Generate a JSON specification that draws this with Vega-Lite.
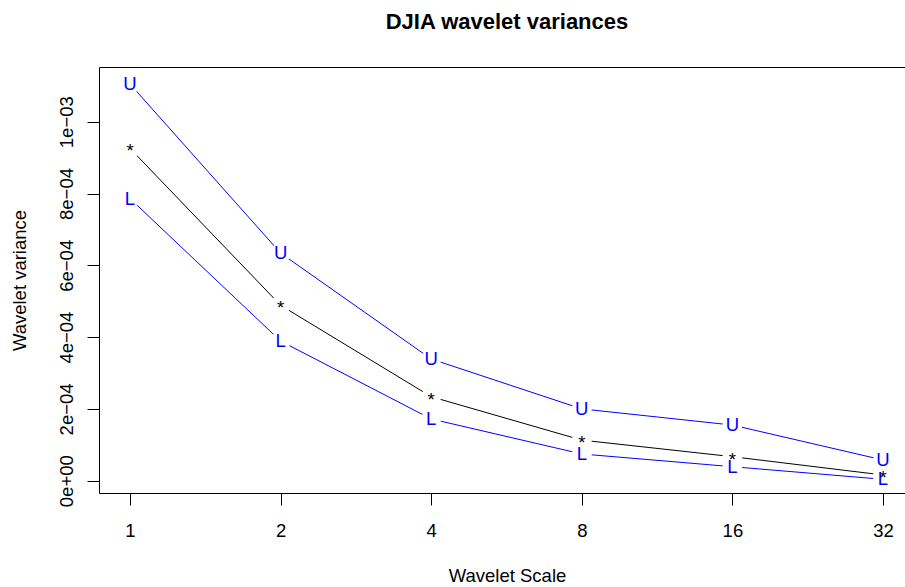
{
  "$schema": "https://vega.github.io/schema/vega-lite/v6.json",
  "autosize": "none",
  "padding": {"left": 99, "top": 67, "right": 0, "bottom": 94},
  "width": 806,
  "height": 426,
  "background": "white",
  "title": {
    "text": "DJIA wavelet variances",
    "font": "Liberation Sans",
    "fontSize": 22,
    "fontWeight": "bold",
    "color": "black",
    "anchor": "middle",
    "frame": "group",
    "baseline": "alphabetic",
    "offset": 16,
    "dx": 5
  },
  "config": {
    "view": {"stroke": null},
    "axis": {
      "labelFont": "Liberation Sans",
      "titleFont": "Liberation Sans",
      "labelFontSize": 18.5,
      "titleFontSize": 18.5,
      "titleFontWeight": "normal",
      "labelColor": "black",
      "titleColor": "black",
      "tickColor": "black",
      "domainColor": "black",
      "tickWidth": 1,
      "domainWidth": 1,
      "grid": false,
      "labelFlush": false,
      "labelOverlap": false,
      "labelBound": false
    }
  },
  "data": {
    "values": [
      {"scale": 1, "series": "U", "variance": 0.001105},
      {"scale": 1, "series": "*", "variance": 0.0009256},
      {"scale": 1, "series": "L", "variance": 0.000786},
      {"scale": 2, "series": "U", "variance": 0.000634},
      {"scale": 2, "series": "*", "variance": 0.0004886},
      {"scale": 2, "series": "L", "variance": 0.000389},
      {"scale": 4, "series": "U", "variance": 0.000339},
      {"scale": 4, "series": "*", "variance": 0.000234},
      {"scale": 4, "series": "L", "variance": 0.000172},
      {"scale": 8, "series": "U", "variance": 0.0002},
      {"scale": 8, "series": "*", "variance": 0.000113},
      {"scale": 8, "series": "L", "variance": 0.0000744},
      {"scale": 16, "series": "U", "variance": 0.000155},
      {"scale": 16, "series": "*", "variance": 0.0000669},
      {"scale": 16, "series": "L", "variance": 0.000039},
      {"scale": 32, "series": "U", "variance": 0.0000577},
      {"scale": 32, "series": "*", "variance": 0.0000159},
      {"scale": 32, "series": "L", "variance": 0.0000039}
    ]
  },
  "encoding": {
    "y": {
      "field": "variance",
      "type": "quantitative",
      "scale": {"domain": [-0.00003426, 0.00115237], "nice": false, "zero": false},
      "axis": {
        "orient": "left",
        "values": [0, 0.0002, 0.0004, 0.0006, 0.0008, 0.001],
        "labelExpr": "['0e+00','2e\u221204','4e\u221204','6e\u221204','8e\u221204','1e\u221203'][round(datum.value*5000)]",
        "labelAngle": -90,
        "labelAlign": "center",
        "labelBaseline": "alphabetic",
        "labelPadding": 15,
        "tickSize": 12,
        "domain": true,
        "title": "Wavelet variance",
        "titleAngle": -90,
        "titleX": -74,
        "titleY": 213,
        "titleAlign": "center",
        "titleBaseline": "alphabetic"
      }
    }
  },
  "layer": [
    {
      "mark": {"type": "line", "strokeWidth": 1},
      "encoding": {
        "x": {
          "field": "scale",
          "type": "quantitative",
          "scale": {"type": "log", "base": 2, "domain": [0.867, 35.41], "nice": false},
          "axis": {
            "orient": "bottom",
            "values": [1, 2, 4, 8, 16, 32],
            "format": "d",
            "labelAngle": 0,
            "labelAlign": "center",
            "labelBaseline": "top",
            "labelPadding": 16,
            "tickSize": 12,
            "domain": true,
            "title": "Wavelet Scale",
            "titleX": 408,
            "titleY": 88.5,
            "titleAlign": "center",
            "titleBaseline": "alphabetic"
          }
        },
        "color": {
          "field": "series",
          "type": "nominal",
          "scale": {"domain": ["U", "*", "L"], "range": ["#0000ff", "#000000", "#0000ff"]},
          "legend": null
        }
      }
    },
    {
      "mark": {"type": "point", "shape": "circle", "filled": true, "color": "white", "opacity": 1, "size": 400, "strokeWidth": 0},
      "encoding": {
        "x": {
          "field": "scale",
          "type": "quantitative",
          "scale": {"type": "log", "base": 2, "domain": [0.867, 35.41], "nice": false},
          "axis": {"orient": "top", "labels": false, "ticks": false, "domain": true, "title": null}
        }
      }
    },
    {
      "transform": [{"filter": "datum.series != '*'"}],
      "mark": {"type": "text", "font": "Liberation Sans", "fontSize": 18.5, "align": "center", "baseline": "middle", "color": "#0000ff"},
      "encoding": {
        "x": {
          "field": "scale",
          "type": "quantitative",
          "scale": {"type": "log", "base": 2, "domain": [0.867, 35.41], "nice": false},
          "axis": null
        },
        "text": {"field": "series", "type": "nominal"}
      }
    },
    {
      "transform": [{"filter": "datum.series == '*'"}],
      "mark": {"type": "text", "font": "Liberation Sans", "fontSize": 18.5, "align": "center", "baseline": "alphabetic", "dy": 9, "color": "black"},
      "encoding": {
        "x": {
          "field": "scale",
          "type": "quantitative",
          "scale": {"type": "log", "base": 2, "domain": [0.867, 35.41], "nice": false},
          "axis": null
        },
        "text": {"field": "series", "type": "nominal"}
      }
    }
  ]
}
